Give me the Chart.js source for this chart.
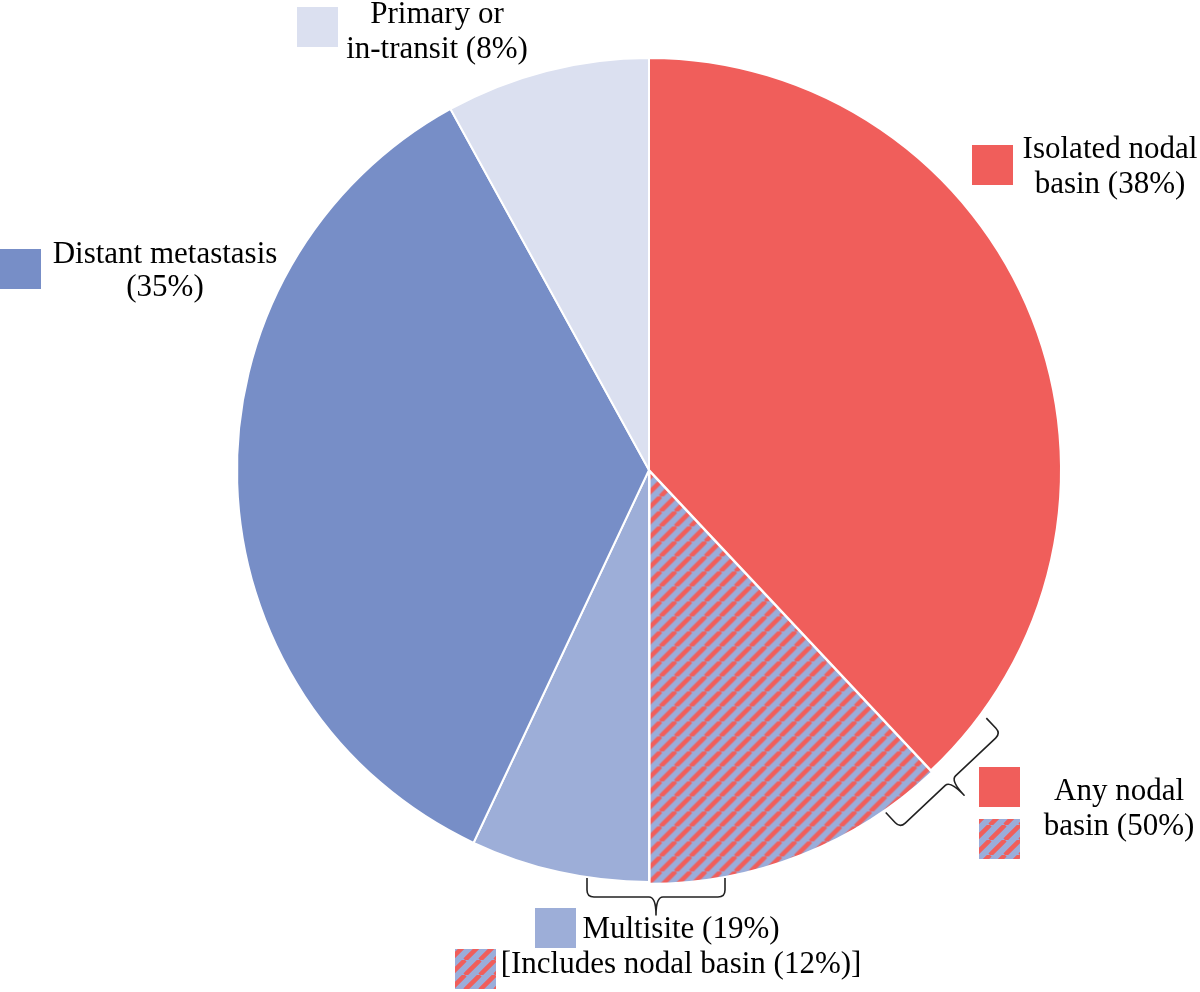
<!DOCTYPE html>
<html>
<head>
<meta charset="utf-8">
<title>Recurrence sites</title>
<script src="https://cdn.jsdelivr.net/npm/chart.js@4/dist/chart.umd.min.js"></script>
<style>
  html, body { margin: 0; padding: 0; background: #fff; }
  #pie { display: block; }
</style>
</head>
<body>
<canvas id="pie" width="1200" height="992"></canvas>
<script>
// slices, clockwise from 12 o'clock
const sliceNames = ['Isolated nodal basin', 'Multisite incl. nodal basin', 'Multisite (other)', 'Distant metastasis', 'Primary or in-transit'];
const sliceValues = [38, 12, 7, 35, 8];

// label texts
const primaryLines = ['Primary or', 'in-transit (8%)'];
const isolatedLines = ['Isolated nodal', 'basin (38%)'];
const distantLines = ['Distant metastasis', '(35%)'];
const anyNodalLines = ['Any nodal', 'basin (50%)'];
const multisiteLines = ['Multisite (19%)', '[Includes nodal basin (12%)]'];

const RED = '#F05E5B';
const BLUE_DARK = '#778EC7';
const BLUE_MID = '#9DAED8';
const BLUE_PALE = '#DBE0F0';

function stripePattern(bg, fg){
  const c = document.createElement('canvas');
  c.width = 15; c.height = 15;
  const g = c.getContext('2d');
  g.fillStyle = bg;
  g.fillRect(0, 0, 15, 15);
  g.strokeStyle = fg;
  g.lineWidth = 4.5;
  g.beginPath();
  [-15, 0, 15].forEach(function(k){
    g.moveTo(k, 15);
    g.lineTo(k + 15, 0);
  });
  g.stroke();
  return g.createPattern(c, 'repeat');
}

const hatch = stripePattern('#9AADDA', RED);

function drawBrace(ctx, cx, cy, ang, half, hook, tip){
  const ux = Math.cos(ang), uy = Math.sin(ang);   // outward
  const tx = -uy, ty = ux;                          // along
  const P = function(s, n){ return [cx + tx * s + ux * n, cy + ty * s + uy * n]; };
  const r = 7;
  ctx.beginPath();
  ctx.moveTo.apply(ctx, P(-half, -hook));
  ctx.lineTo.apply(ctx, P(-half, -r));
  ctx.quadraticCurveTo.apply(ctx, P(-half, 0).concat(P(-half + r, 0)));
  ctx.lineTo.apply(ctx, P(-r, 0));
  ctx.quadraticCurveTo.apply(ctx, P(0, 0).concat(P(0, tip)));
  ctx.quadraticCurveTo.apply(ctx, P(0, 0).concat(P(r, 0)));
  ctx.lineTo.apply(ctx, P(half - r, 0));
  ctx.quadraticCurveTo.apply(ctx, P(half, 0).concat(P(half, -r)));
  ctx.lineTo.apply(ctx, P(half, -hook));
  ctx.stroke();
}

function box(ctx, x, y, fill){
  ctx.fillStyle = fill;
  ctx.fillRect(x, y, 41, 40);
}

function lines(ctx, arr, x, y0, lh){
  ctx.fillStyle = '#000';
  arr.forEach(function(t, i){ ctx.fillText(t, x, y0 + i * lh); });
}

const annotations = {
  id: 'annotations',
  afterDraw(chart){
    const ctx = chart.ctx;
    const arcs = chart.getDatasetMeta(0).data;
    ctx.save();
    // braces
    ctx.strokeStyle = '#222';
    ctx.lineWidth = 1.6;
    ctx.lineJoin = 'round';
    const a0 = arcs[0];
    drawBrace(ctx, a0.x + Math.cos(a0.endAngle) * (a0.outerRadius + 21) + 5,
              a0.y + Math.sin(a0.endAngle) * (a0.outerRadius + 21) - 5,
              a0.endAngle, 69, 21, 20);
    const a1 = arcs[1];
    drawBrace(ctx, a1.x + Math.cos(a1.endAngle) * (a1.outerRadius + 15) + 7,
              a1.y + Math.sin(a1.endAngle) * (a1.outerRadius + 15),
              a1.endAngle, 69, 19, 18);

    // labels
    ctx.font = '31px "Liberation Serif", "Times New Roman", serif';
    ctx.textAlign = 'center';
    ctx.textBaseline = 'alphabetic';

    box(ctx, 297, 7, BLUE_PALE);
    lines(ctx, primaryLines, 437, 23, 35);

    box(ctx, 972, 145, RED);
    lines(ctx, isolatedLines, 1110, 158, 35);

    box(ctx, 0, 249, BLUE_DARK);
    lines(ctx, distantLines, 165, 263, 33);

    box(ctx, 979, 767, RED);
    box(ctx, 979, 819, hatch);
    lines(ctx, anyNodalLines, 1119, 800, 35);

    box(ctx, 535, 908, BLUE_MID);
    box(ctx, 455, 949, hatch);
    lines(ctx, multisiteLines, 681, 938, 35);
    ctx.restore();
  }
};

DocumentReady(function(){
  new Chart(document.getElementById('pie'), {
    type: 'pie',
    data: {
      labels: sliceNames,
      datasets: [{
        data: sliceValues,
        backgroundColor: [RED, hatch, BLUE_MID, BLUE_DARK, BLUE_PALE],
        borderColor: '#ffffff',
        borderWidth: 2,
        offset: [0, 6, 0, 0, 0]
      }]
    },
    options: {
      responsive: false,
      animation: false,
      layout: { padding: { left: 233, right: 135, top: 54, bottom: 106 } },
      plugins: { legend: { display: false }, tooltip: { enabled: false } }
    },
    plugins: [annotations]
  });
});

function DocumentReady(cb){
  if(document.readyState !== 'loading') cb();
  else document.addEventListener('DOMContentLoaded', cb);
}
</script>
</body>
</html>
